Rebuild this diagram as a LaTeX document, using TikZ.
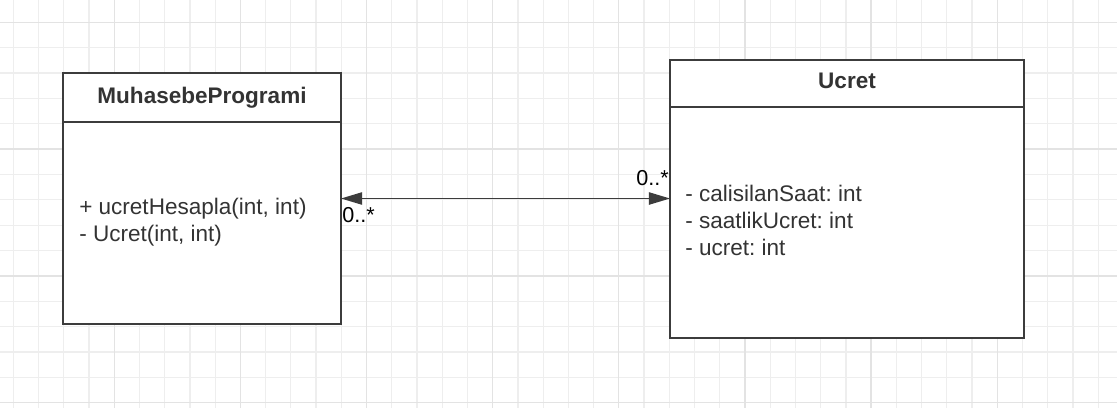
\documentclass[tikz,border=0pt]{standalone}
\usepackage{fontspec}
\setmainfont{Liberation Sans}
\usetikzlibrary{arrows.meta}
\definecolor{txt}{HTML}{333333}
\definecolor{edge}{HTML}{3C3C3C}
\definecolor{gridminor}{HTML}{EEEEEE}
\definecolor{gridmajor}{HTML}{E3E3E3}
\frenchspacing
\begin{document}
\begin{tikzpicture}[x=0.75pt,y=-0.75pt,
  classbox/.style={draw=edge,fill=white,line width=1.8pt,inner sep=0pt,outer sep=0pt,anchor=north west},
  divider/.style={draw=edge,line width=1.8pt},
  title/.style={font=\fontsize{16.9}{20}\selectfont\bfseries,text=txt,inner sep=0pt,anchor=base},
  member/.style={font=\fontsize{16.9}{20}\selectfont,text=txt,inner sep=0pt,anchor=base west},
  mult/.style={font=\fontsize{16.2}{20}\selectfont,text=black,inner sep=0pt},
  assoc/.style={draw=edge,line width=1.1pt,{Triangle[length=15.8pt,width=9.2pt]}-{Triangle[length=15.8pt,width=9.2pt]}}
]
\useasboundingbox (0,0) rectangle (1117,408);
\fill[white] (0,0) rectangle (1117,408);
% grid
\foreach \i in {-1,...,44} {\draw[gridminor,line width=0.9pt] ({13.3+\i*25.23},0) -- ({13.3+\i*25.23},408);}
\foreach \j in {-1,...,16} {\draw[gridminor,line width=0.9pt] (0,{22.3+\j*25.36}) -- (1117,{22.3+\j*25.36});}
\foreach \i in {-1,...,8} {\draw[gridmajor,line width=1pt] ({114.2+\i*126.15},0) -- ({114.2+\i*126.15},408);}
\foreach \j in {0,...,3} {\draw[gridmajor,line width=1pt] (0,{22.3+\j*126.8}) -- (1117,{22.3+\j*126.8});}
% class MuhasebeProgrami
\node[classbox,minimum width=208.5pt,minimum height=188.25pt] (mp) at (63,73) {};
\draw[divider] (mp.north west) ++(0,49) -- ++(278,0);
\node[title] (mpt) at (202,103) {MuhasebeProgrami};
\node[member] (mp1) at (79,214) {+ ucretHesapla(int, int)};
\node[member] (mp2) at (79,241) {- Ucret(int, int)};
% class Ucret
\node[classbox,minimum width=265.5pt,minimum height=208.5pt] (uc) at (670,60) {};
\draw[divider] (uc.north west) ++(0,47.2) -- ++(354,0);
\node[title] (uct) at (847,88) {Ucret};
\node[member] (uc1) at (685,201.5) {- calisilanSaat: int};
\node[member] (uc2) at (685,228.2) {- saatlikUcret: int};
\node[member] (uc3) at (685,255) {- ucret: int};
% association
\draw[assoc] (mp.east) -- (mp.east -| uc.west);
\node[mult,anchor=base east] (mr) at (669,185) {0..*};
\node[mult,anchor=base west] (ml) at (342,222) {0..*};
\end{tikzpicture}
\end{document}
